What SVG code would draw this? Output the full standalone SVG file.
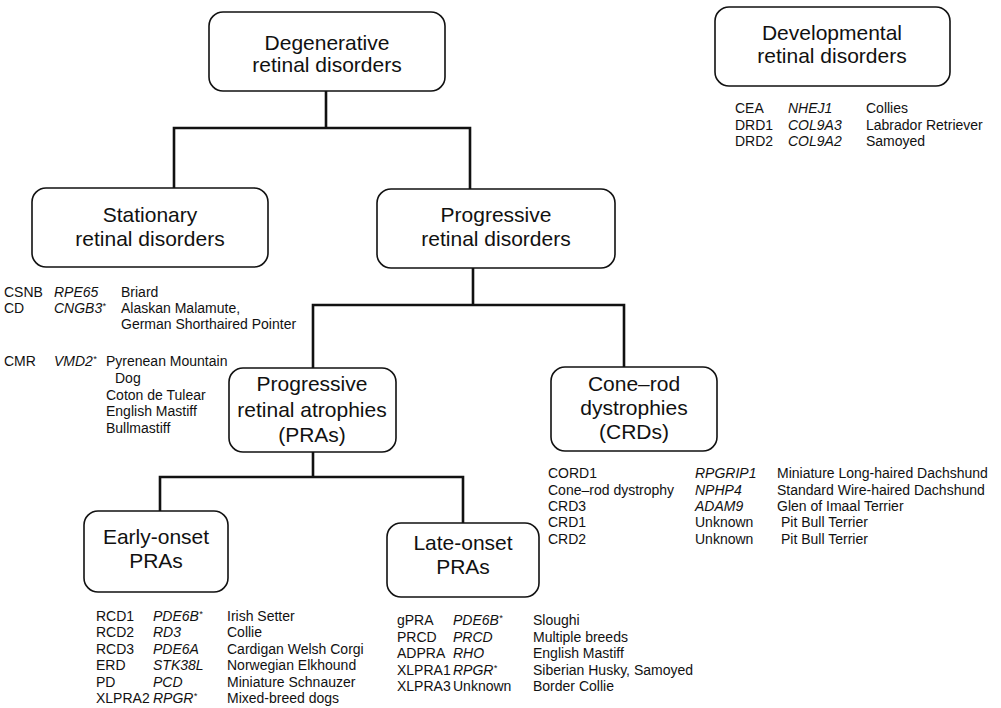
<svg xmlns="http://www.w3.org/2000/svg" width="1001" height="708" viewBox="0 0 1001 708">
<style>
.box{fill:#fff;stroke:#111;stroke-width:1.6}
.lbl{font-family:"Liberation Sans",Arial,sans-serif;font-size:21px;fill:#111;text-anchor:middle}
.t{font-family:"Liberation Sans",Arial,sans-serif;font-size:14px;fill:#111}
.i{font-style:italic}
.conn{fill:none;stroke:#111;stroke-width:2.6;stroke-linecap:square}
</style>
<rect width="1001" height="708" fill="#fff"/>
<g id="connectors">
<path class="conn" d="M326,91V128M174,188V128H470V189"/>
<path class="conn" d="M473,268V305M313,368V305H624V367"/>
<path class="conn" d="M313,452V477M160,511V477H463V523"/>
</g>
<g id="degenerative">
<rect class="box" x="209" y="12" width="236" height="79" rx="14"/>
<text class="lbl" x="327" y="50">Degenerative</text>
<text class="lbl" x="327" y="72">retinal disorders</text>
</g>
<g id="developmental">
<rect class="box" x="715" y="7" width="235" height="79" rx="14"/>
<text class="lbl" x="832" y="40">Developmental</text>
<text class="lbl" x="832" y="63">retinal disorders</text>
<text class="t" y="113"><tspan x="735">CEA</tspan><tspan x="788" class="i">NHEJ1</tspan><tspan x="866">Collies</tspan></text>
<text class="t" y="129.5"><tspan x="735">DRD1</tspan><tspan x="788" class="i">COL9A3</tspan><tspan x="866">Labrador Retriever</tspan></text>
<text class="t" y="146"><tspan x="735">DRD2</tspan><tspan x="788" class="i">COL9A2</tspan><tspan x="866">Samoyed</tspan></text>
</g>
<g id="stationary">
<rect class="box" x="32" y="188" width="236" height="79" rx="14"/>
<text class="lbl" x="150" y="222">Stationary</text>
<text class="lbl" x="150" y="246">retinal disorders</text>
<text class="t" y="297"><tspan x="4">CSNB</tspan><tspan x="54" class="i">RPE65</tspan><tspan x="121">Briard</tspan></text>
<text class="t" y="313"><tspan x="4">CD</tspan><tspan x="54" class="i">CNGB3</tspan><tspan class="i" font-size="9" dy="-4">*</tspan><tspan x="121" dy="4">Alaskan Malamute,</tspan></text>
<text class="t" x="121" y="329">German Shorthaired Pointer</text>
<text class="t" y="366"><tspan x="4">CMR</tspan><tspan x="54" class="i">VMD2</tspan><tspan class="i" font-size="9" dy="-4">*</tspan><tspan x="106" dy="4">Pyrenean Mountain</tspan></text>
<text class="t" x="115" y="383">Dog</text>
<text class="t" x="106" y="399.5">Coton de Tulear</text>
<text class="t" x="106" y="416">English Mastiff</text>
<text class="t" x="106" y="432.5">Bullmastiff</text>
</g>
<g id="progressive">
<rect class="box" x="377" y="189" width="238" height="79" rx="14"/>
<text class="lbl" x="496" y="222">Progressive</text>
<text class="lbl" x="496" y="246">retinal disorders</text>
</g>
<g id="pras">
<rect class="box" x="229" y="368" width="167" height="84" rx="14"/>
<text class="lbl" x="312" y="391">Progressive</text>
<text class="lbl" x="312" y="416.5">retinal atrophies</text>
<text class="lbl" x="312" y="442">(PRAs)</text>
</g>
<g id="crds">
<rect class="box" x="551" y="367" width="166" height="84" rx="14"/>
<text class="lbl" x="634" y="391">Cone–rod</text>
<text class="lbl" x="634" y="415">dystrophies</text>
<text class="lbl" x="634" y="439">(CRDs)</text>
<text class="t" y="478"><tspan x="548">CORD1</tspan><tspan x="695" class="i">RPGRIP1</tspan><tspan x="777">Miniature Long-haired Dachshund</tspan></text>
<text class="t" y="494.5"><tspan x="548">Cone–rod dystrophy</tspan><tspan x="695" class="i">NPHP4</tspan><tspan x="777">Standard Wire-haired Dachshund</tspan></text>
<text class="t" y="511"><tspan x="548">CRD3</tspan><tspan x="695" class="i">ADAM9</tspan><tspan x="777">Glen of Imaal Terrier</tspan></text>
<text class="t" y="527"><tspan x="548">CRD1</tspan><tspan x="695">Unknown</tspan><tspan x="781">Pit Bull Terrier</tspan></text>
<text class="t" y="543.5"><tspan x="548">CRD2</tspan><tspan x="695">Unknown</tspan><tspan x="781">Pit Bull Terrier</tspan></text>
</g>
<g id="early">
<rect class="box" x="84" y="511" width="144" height="81" rx="14"/>
<text class="lbl" x="156" y="544">Early-onset</text>
<text class="lbl" x="156" y="568">PRAs</text>
<text class="t" y="620.5"><tspan x="96">RCD1</tspan><tspan x="153" class="i">PDE6B</tspan><tspan class="i" font-size="9" dy="-4">*</tspan><tspan x="227" dy="4">Irish Setter</tspan></text>
<text class="t" y="637"><tspan x="96">RCD2</tspan><tspan x="153" class="i">RD3</tspan><tspan x="227">Collie</tspan></text>
<text class="t" y="653.5"><tspan x="96">RCD3</tspan><tspan x="153" class="i">PDE6A</tspan><tspan x="227">Cardigan Welsh Corgi</tspan></text>
<text class="t" y="670"><tspan x="96">ERD</tspan><tspan x="153" class="i">STK38L</tspan><tspan x="227">Norwegian Elkhound</tspan></text>
<text class="t" y="686.5"><tspan x="96">PD</tspan><tspan x="153" class="i">PCD</tspan><tspan x="227">Miniature Schnauzer</tspan></text>
<text class="t" y="703"><tspan x="96">XLPRA2</tspan><tspan x="153" class="i">RPGR</tspan><tspan class="i" font-size="9" dy="-4">*</tspan><tspan x="227" dy="4">Mixed-breed dogs</tspan></text>
</g>
<g id="late">
<rect class="box" x="387" y="523" width="152" height="74" rx="14"/>
<text class="lbl" x="463" y="550">Late-onset</text>
<text class="lbl" x="463" y="574">PRAs</text>
<text class="t" y="625"><tspan x="397">gPRA</tspan><tspan x="453" class="i">PDE6B</tspan><tspan class="i" font-size="9" dy="-4">*</tspan><tspan x="533" dy="4">Sloughi</tspan></text>
<text class="t" y="641.5"><tspan x="397">PRCD</tspan><tspan x="453" class="i">PRCD</tspan><tspan x="533">Multiple breeds</tspan></text>
<text class="t" y="658"><tspan x="397">ADPRA</tspan><tspan x="453" class="i">RHO</tspan><tspan x="533">English Mastiff</tspan></text>
<text class="t" y="674.5"><tspan x="397">XLPRA1</tspan><tspan x="453" class="i">RPGR</tspan><tspan class="i" font-size="9" dy="-4">*</tspan><tspan x="533" dy="4">Siberian Husky, Samoyed</tspan></text>
<text class="t" y="691"><tspan x="397">XLPRA3</tspan><tspan x="453">Unknown</tspan><tspan x="533">Border Collie</tspan></text>
</g>
</svg>
